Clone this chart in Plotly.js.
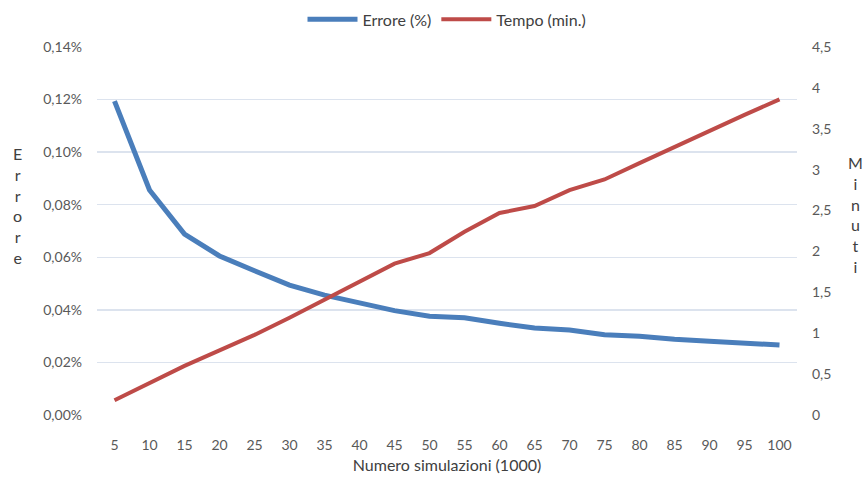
<!DOCTYPE html>
<html><head><meta charset="utf-8">
<script src="https://cdn.plot.ly/plotly-3.0.1.min.js"></script>
<style>html,body{margin:0;padding:0;background:#fff;}#chart{width:862px;height:479px;}</style>
</head><body><div id="chart"></div>
<script>
const categories = ["5","10","15","20","25","30","35","40","45","50","55","60","65","70","75","80","85","90","95","100"];
const errore = [0.1194,0.0856,0.0688,0.0605,0.0549,0.0494,0.0456,0.0427,0.0397,0.0376,0.0370,0.0349,0.0331,0.0323,0.0305,0.0300,0.0288,0.0281,0.0273,0.0266];
const tempo = [0.18,0.395,0.60,0.79,0.98,1.19,1.41,1.62,1.85,1.98,2.24,2.47,2.555,2.75,2.88,3.08,3.28,3.48,3.67,3.86];
const leftTicks = [0,0.0002,0.0004,0.0006,0.0008,0.0010,0.0012,0.0014];

const font = "Lato, 'Open Sans', sans-serif";
const data = [
  {x: categories, y: errore.map(v => v/100), name: "Errore (%)", type: "scatter", mode: "lines",
   line: {color: "#4A7EBB", width: 5}, yaxis: "y"},
  {x: categories, y: tempo, name: "Tempo (min.)", type: "scatter", mode: "lines",
   line: {color: "#BE4B48", width: 4}, yaxis: "y2"}
];
const layout = {
  width: 862, height: 479,
  margin: {l: 97, r: 65, t: 47, b: 64},
  paper_bgcolor: "#fff", plot_bgcolor: "#fff",
  separators: ",.",
  font: {family: font, size: 14, color: "#595959"},
  showlegend: true,
  legend: {orientation: "h", x: 0.5, xanchor: "center", y: 0.995, yref: "container", yanchor: "top",
           font: {size: 16, color: "#404040"}, itemwidth: 50, tracegroupgap: 0},
  xaxis: {type: "category", range: [-0.5, 19.5], showgrid: false, zeroline: false,
          showline: false, ticks: "", ticklen: 0, ticklabelstandoff: 20, tickfont: {size: 14, color: "#595959"},
          title: {text: "Numero simulazioni (1000)", font: {size: 16, color: "#404040"}, standoff: 7}},
  yaxis: {range: [0, 0.0014], tickvals: leftTicks, tickformat: ".2%", showgrid: true,
          gridcolor: "#DCE3EE", gridwidth: 1.3, zeroline: false, showline: false, ticks: "",
          ticklabelstandoff: 14, tickfont: {size: 14, color: "#595959"}},
  yaxis2: {range: [0, 4.5], dtick: 0.5, overlaying: "y", side: "right", showgrid: false,
           zeroline: false, showline: false, ticks: "", ticklabelstandoff: 14,
           tickfont: {size: 14, color: "#595959"}},
  annotations: [
    {text: "E<br>r<br>r<br>o<br>r<br>e", xref: "paper", yref: "paper", x: -0.113, y: 0.568, showarrow: false,
     xanchor: "center", yanchor: "middle", font: {size: 16, color: "#404040"}, align: "center"},
    {text: "M<br>i<br>n<br>u<br>t<br>i", xref: "paper", yref: "paper", x: 1.083, y: 0.546, showarrow: false,
     xanchor: "center", yanchor: "middle", font: {size: 16, color: "#404040"}, align: "center"}
  ]
};
Plotly.newPlot("chart", data, layout, {displayModeBar: false, staticPlot: true});
</script></body></html>
